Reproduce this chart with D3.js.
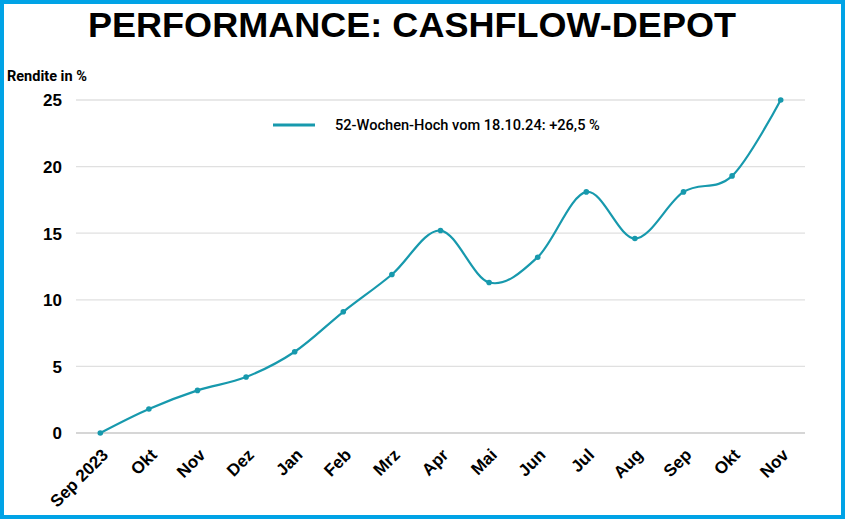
<!DOCTYPE html>
<html>
<head>
<meta charset="utf-8">
<title>Performance Cashflow-Depot</title>
<script src="https://cdn.jsdelivr.net/npm/d3@7"></script>
<style>
body { margin: 0; background: #fff; }
svg text { font-family: "Liberation Sans", Arial, sans-serif; }
</style>
</head>
<body>
<script>
// data
var months = ["Sep 2023", "Okt", "Nov", "Dez", "Jan", "Feb", "Mrz", "Apr", "Mai", "Jun", "Jul", "Aug", "Sep", "Okt ", "Nov "];
var rendite = [0, 1.8, 3.2, 4.2, 6.1, 9.1, 11.9, 15.2, 11.3, 13.2, 18.1, 14.6, 18.1, 19.3, 25.0];
var yTicks = [0, 5, 10, 15, 20, 25];
var legendLabel = "52-Wochen-Hoch vom 18.10.24: +26,5 %";

var width = 845, height = 519;
var margin = { top: 100, right: 40, bottom: 86, left: 76 };
var lineColor = "#1799ad";

var svg = d3.select("body").append("svg")
  .attr("width", width).attr("height", height);

svg.append("rect")
  .attr("x", 2).attr("y", 2)
  .attr("width", width - 4).attr("height", height - 4)
  .attr("fill", "#fff")
  .attr("stroke", "#00a3e6")
  .attr("stroke-width", 4);

// title
svg.append("text")
  .attr("x", 412).attr("y", 37)
  .attr("text-anchor", "middle")
  .attr("font-size", "35px")
  .attr("font-weight", "bold")
  .attr("textLength", 648)
  .attr("lengthAdjust", "spacingAndGlyphs")
  .text("PERFORMANCE: CASHFLOW-DEPOT");

svg.append("text")
  .attr("x", 7).attr("y", 81)
  .attr("font-size", "14.5px")
  .attr("font-weight", "bold")
  .style("font-family", "Roboto, sans-serif")
  .text("Rendite in %");

var x = d3.scaleBand().domain(months).range([margin.left, width - margin.right]);
var y = d3.scaleLinear().domain([0, 25]).range([height - margin.bottom, margin.top]);

// gridlines
svg.append("g").selectAll("line")
  .data(yTicks)
  .enter()
  .append("line")
  .attr("x1", margin.left).attr("x2", width - margin.right)
  .attr("y1", function(d) { return y(d); })
  .attr("y2", function(d) { return y(d); })
  .attr("stroke", function(d) { return d === 0 ? "#c8c8c8" : "#e0e0e0"; })
  .attr("stroke-width", 1.3);

// y axis labels
var yAxis = svg.append("g")
  .attr("transform", "translate(" + 62 + ",0)")
  .call(d3.axisLeft(y).tickValues(yTicks).tickSize(0).tickPadding(0));
yAxis.select(".domain").remove();
yAxis.selectAll("text")
  .attr("font-size", "17px")
  .attr("font-weight", "bold")
  .attr("fill", "#000")
  .attr("dy", "0.35em")
  .style("font-family", "'Liberation Sans', Arial, sans-serif");

// x axis labels
var xAxis = svg.append("g")
  .attr("transform", "translate(0," + (height - margin.bottom) + ")")
  .call(d3.axisBottom(x).tickSize(0).tickPadding(0));
xAxis.select(".domain").remove();
xAxis.selectAll("text")
  .attr("font-size", "17px")
  .attr("font-weight", "bold")
  .attr("fill", "#000")
  .attr("text-anchor", "end")
  .attr("y", 0).attr("dy", 0)
  .attr("transform", "translate(9,23) rotate(-45)")
  .style("font-family", "'Liberation Sans', Arial, sans-serif");

// line
var line = d3.line()
  .x(function(d, i) { return x(months[i]) + x.bandwidth() / 2; })
  .y(function(d) { return y(d); })
  .curve(d3.curveCardinal.tension(0));

svg.append("path")
  .datum(rendite)
  .attr("fill", "none")
  .attr("stroke", lineColor)
  .attr("stroke-width", 2.2)
  .attr("d", line);

svg.append("g").selectAll("circle")
  .data(rendite)
  .enter()
  .append("circle")
  .attr("cx", function(d, i) { return x(months[i]) + x.bandwidth() / 2; })
  .attr("cy", function(d) { return y(d); })
  .attr("r", 2.8)
  .attr("fill", lineColor);

// legend
svg.append("line")
  .attr("x1", 273).attr("x2", 315)
  .attr("y1", 125).attr("y2", 125)
  .attr("stroke", lineColor)
  .attr("stroke-width", 3);

svg.append("text")
  .attr("x", 335).attr("y", 130)
  .attr("font-size", "14.6px")
  .attr("font-weight", 500)
  .style("font-family", "Roboto, sans-serif")
  .text(legendLabel);
</script>
</body>
</html>
